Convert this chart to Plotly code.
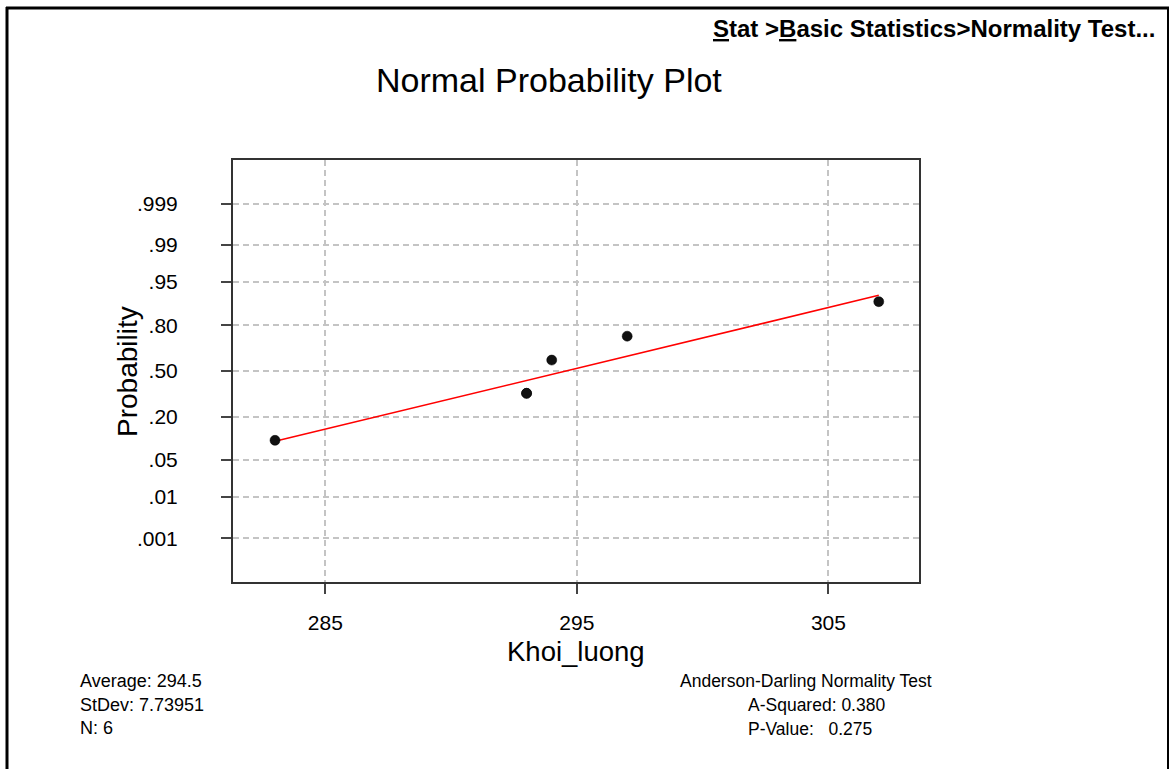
import plotly.graph_objects as go
from statistics import NormalDist

# ---- data ----
khoi_luong = [283, 293, 293, 294, 297, 307]
plot_prob = [0.10, 0.34, 0.34, 0.58, 0.74, 0.90]
fit_x = [283, 307]
fit_prob = [0.097, 0.919]
prob_ticks = [0.001, 0.01, 0.05, 0.20, 0.50, 0.80, 0.95, 0.99, 0.999]
prob_labels = [".001", ".01", ".05", ".20", ".50", ".80", ".95", ".99", ".999"]
x_ticks = [285, 295, 305]
x_labels = ["285", "295", "305"]
left_stats = ["Average: 294.5", "StDev: 7.73951", "N: 6"]
ad_title = "Anderson-Darling Normality Test"
ad_stats = ["A-Squared: 0.380", "P-Value:\u00a0\u00a0\u00a00.275"]

nd = NormalDist()
probit = nd.inv_cdf  # normal-probability axis scale

FONT = "Liberation Sans, Arial, Helvetica, sans-serif"
W, H = 1172, 769
L, R, T, B = 233, 919, 160, 582
PW, PH = R - L, B - T


def px(x):
    return (x - L) / PW


def py(y):
    return (B - y) / PH


fig = go.Figure()

fig.add_trace(go.Scatter(
    x=fit_x, y=[probit(p) for p in fit_prob], mode="lines",
    line=dict(color="#ff0000", width=1.6), hoverinfo="skip", showlegend=False,
))
fig.add_trace(go.Scatter(
    x=khoi_luong, y=[probit(p) for p in plot_prob], mode="markers",
    marker=dict(color="#111111", size=10, line=dict(color="#000000", width=0.5)),
    showlegend=False,
))

axis_common = dict(
    showline=True, linecolor="#333333", linewidth=2, mirror=True,
    ticks="outside", ticklen=10, tickwidth=2, tickcolor="#444444",
    showgrid=True, gridcolor="#c4c4c4", gridwidth=1.5, griddash="6px,4px",
    zeroline=False, tickfont=dict(family=FONT, size=21, color="#000000"),
)

fig.update_xaxes(range=[281.33, 308.6], tickvals=x_ticks, ticktext=x_labels,
                 ticklabelstandoff=11, **axis_common)
fig.update_yaxes(range=[-3.9, 3.9], tickvals=[probit(p) for p in prob_ticks],
                 ticktext=prob_labels, ticklabelstandoff=39, **axis_common)

annotations = [
    dict(text="<b><u>S</u>tat &gt;<u>B</u>asic Statistics&gt;Normality Test...</b>",
         x=px(1157), y=py(28), xanchor="right", yanchor="middle",
         font=dict(size=24, family=FONT, color="#000000")),
    dict(text="Normal Probability Plot", x=px(549), y=py(80), xanchor="center", yanchor="middle",
         font=dict(size=34, family=FONT, color="#000000")),
    dict(text="Khoi_luong", x=px(576), y=py(651), xanchor="center", yanchor="middle",
         font=dict(size=27.5, family=FONT, color="#000000")),
    dict(text="Probability", x=px(127), y=py(372), xanchor="center", yanchor="middle",
         textangle=-90, font=dict(size=28, family=FONT, color="#000000")),
    dict(text=ad_title, x=px(678), y=py(681), xanchor="left", yanchor="middle",
         font=dict(size=17.5, family=FONT, color="#000000")),
]
for i, s in enumerate(left_stats):
    annotations.append(dict(text=s, x=px(78), y=py(681 + 23.5 * i), xanchor="left",
                            yanchor="middle", font=dict(size=18, family=FONT, color="#000000")))
for i, s in enumerate(ad_stats):
    annotations.append(dict(text=s, x=px(746), y=py(705 + 23.5 * i), xanchor="left",
                            yanchor="middle", font=dict(size=17.5, family=FONT, color="#000000")))
for a in annotations:
    a.update(xref="paper", yref="paper", showarrow=False)

shapes = [
    dict(type="line", x0=px(7), x1=px(7), y0=py(7), y1=py(790), line=dict(color="#000", width=3)),
    dict(type="line", x0=px(6), x1=px(1169), y0=py(8), y1=py(8), line=dict(color="#000", width=3)),
    dict(type="line", x0=px(1168), x1=px(1168), y0=py(7), y1=py(790), line=dict(color="#000", width=2)),
]
for s in shapes:
    s.update(xref="paper", yref="paper", layer="above")

fig.update_layout(
    width=W, height=H, autosize=False,
    margin=dict(l=L, r=W - R, t=T, b=H - B, pad=0),
    paper_bgcolor="#ffffff", plot_bgcolor="#ffffff",
    font=dict(family=FONT, color="#000000"),
    annotations=annotations, shapes=shapes,
    showlegend=False,
)

fig.write_html("out.html")
